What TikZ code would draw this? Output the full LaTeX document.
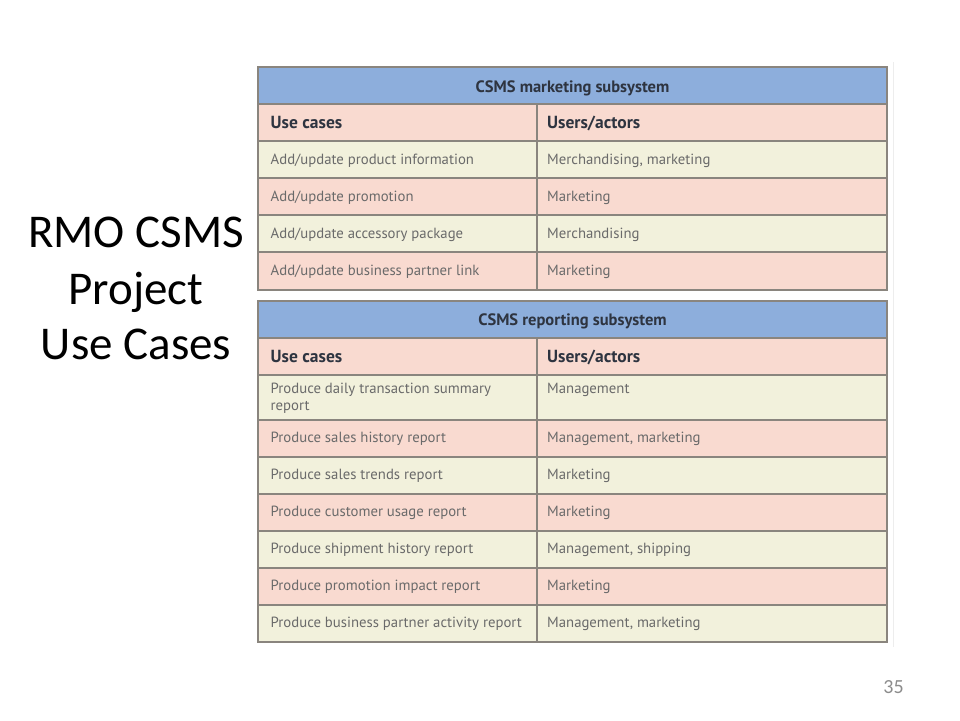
\documentclass[tikz,border=0pt]{standalone}
\usepackage{fontspec}
\setmainfont{Carlito}
\newfontfamily\tabfont{PT Sans}
\definecolor{hdrblue}{HTML}{8DAEDC}
\definecolor{rowpink}{HTML}{F9DAD0}
\definecolor{rowcream}{HTML}{F2F1DC}
\definecolor{gridgrey}{HTML}{8A857E}
\definecolor{celltext}{HTML}{6A6A6A}
\definecolor{headtext}{HTML}{2E3440}
\definecolor{pagegrey}{HTML}{8C8C8C}
\tikzset{
  celltxt/.style={anchor=base west, inner sep=0pt, text=celltext, font=\tabfont\fontsize{14.75}{17}\selectfont},
  coltxt/.style={anchor=base west, inner sep=0pt, text=headtext, font=\tabfont\bfseries\fontsize{17.5}{20}\selectfont},
  titletxt/.style={anchor=base, inner sep=0pt, text=headtext, font=\tabfont\bfseries\fontsize{16.5}{20}\selectfont},
  bigtitle/.style={anchor=base, inner sep=0pt, text=black, font=\fontsize{47}{56}\selectfont},
  grid/.style={draw=gridgrey, line width=1.4pt},
}
\begin{document}
\begin{tikzpicture}[x=1pt,y=-1pt]
\useasboundingbox (0,0) rectangle (960,720);
\fill[white] (0,0) rectangle (960,720);
% faint image edge
\draw[draw=black!7, line width=0.8pt] (893,62) -- (893,647);

% ---------- Title ----------
\node[bigtitle] (title1) at (136,247) {RMO CSMS};
\node[bigtitle] (title2) at (136,304) {Project};
\node[bigtitle] (title3) at (136,359) {Use Cases};

% ---------- Top table ----------
\fill[hdrblue] (258,67) rectangle (887,104);
\fill[rowpink] (258,104) rectangle (887,141);
\fill[rowcream] (258,141) rectangle (887,178);
\fill[rowpink] (258,178) rectangle (887,215);
\fill[rowcream] (258,215) rectangle (887,252);
\fill[rowpink] (258,252) rectangle (887,290);
\draw[grid] (258,67) rectangle (887,290);
\foreach \yy in {104,141,178,215,252} \draw[grid] (258,\yy) -- (887,\yy);
\draw[grid] (537,104) -- (537,290);

\node[titletxt] (mkttitle) at (572.5,92) {CSMS marketing subsystem};
\node[coltxt] (mktuc) at (270.5,128) {Use cases};
\node[coltxt] (mktua) at (547,128) {Users/actors};
\node[celltxt] (m1a) at (270.5,164) {Add/update product information};
\node[celltxt] (m1b) at (547,164) {Merchandising, marketing};
\node[celltxt] (m2a) at (270.5,201) {Add/update promotion};
\node[celltxt] (m2b) at (547,201) {Marketing};
\node[celltxt] (m3a) at (270.5,238) {Add/update accessory package};
\node[celltxt] (m3b) at (547,238) {Merchandising};
\node[celltxt] (m4a) at (270.5,275) {Add/update business partner link};
\node[celltxt] (m4b) at (547,275) {Marketing};

% ---------- Bottom table ----------
\fill[hdrblue] (258,301) rectangle (887,338);
\fill[rowpink] (258,338) rectangle (887,375);
\fill[rowcream] (258,375) rectangle (887,420);
\fill[rowpink] (258,420) rectangle (887,457);
\fill[rowcream] (258,457) rectangle (887,494);
\fill[rowpink] (258,494) rectangle (887,531);
\fill[rowcream] (258,531) rectangle (887,568);
\fill[rowpink] (258,568) rectangle (887,605);
\fill[rowcream] (258,605) rectangle (887,642);
\draw[grid] (258,301) rectangle (887,642);
\foreach \yy in {338,375,420,457,494,531,568,605} \draw[grid] (258,\yy) -- (887,\yy);
\draw[grid] (537,338) -- (537,642);

\node[titletxt] (reptitle) at (572.5,325) {CSMS reporting subsystem};
\node[coltxt] (repuc) at (270.5,362) {Use cases};
\node[coltxt] (repua) at (547,362) {Users/actors};
\node[celltxt] (r1a) at (270.5,393) {Produce daily transaction summary};
\node[celltxt] (r1c) at (270.5,410) {report};
\node[celltxt] (r1b) at (547,393) {Management};
\node[celltxt] (r2a) at (270.5,442) {Produce sales history report};
\node[celltxt] (r2b) at (547,442) {Management, marketing};
\node[celltxt] (r3a) at (270.5,479) {Produce sales trends report};
\node[celltxt] (r3b) at (547,479) {Marketing};
\node[celltxt] (r4a) at (270.5,516) {Produce customer usage report};
\node[celltxt] (r4b) at (547,516) {Marketing};
\node[celltxt] (r5a) at (270.5,553) {Produce shipment history report};
\node[celltxt] (r5b) at (547,553) {Management, shipping};
\node[celltxt] (r6a) at (270.5,590) {Produce promotion impact report};
\node[celltxt] (r6b) at (547,590) {Marketing};
\node[celltxt] (r7a) at (270.5,627) {Produce business partner activity report};
\node[celltxt] (r7b) at (547,627) {Management, marketing};

% ---------- Page number ----------
\node[anchor=base, inner sep=0pt, text=pagegrey, font=\fontsize{20}{24}\selectfont] (pagenum) at (893.5,693) {35};
\end{tikzpicture}
\end{document}
